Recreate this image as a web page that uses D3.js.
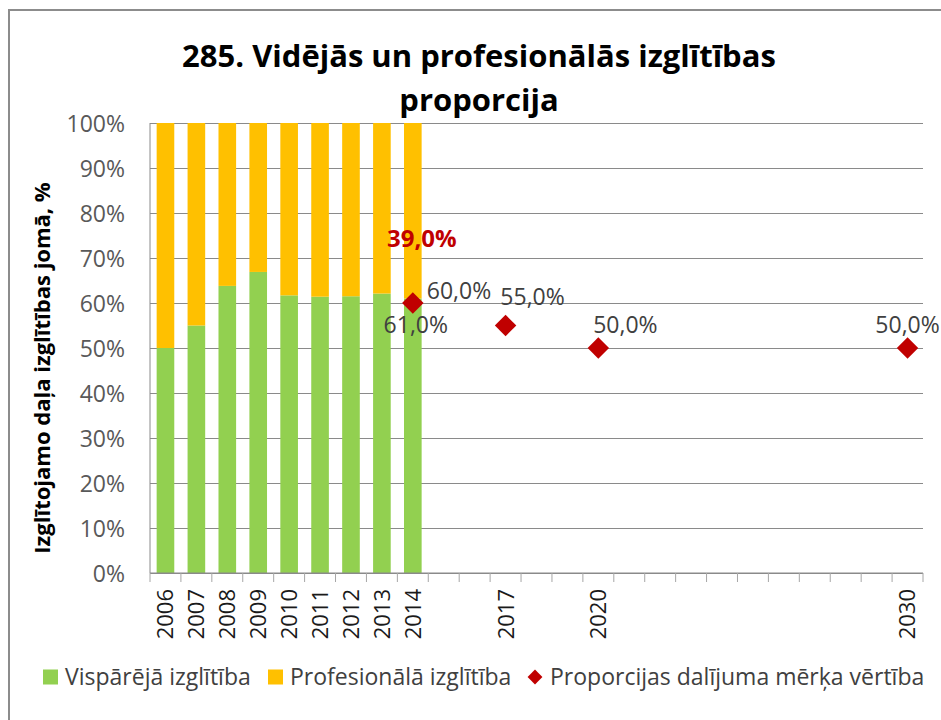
<!DOCTYPE html>
<html>
<head>
<meta charset="utf-8">
<script src="https://cdn.jsdelivr.net/npm/d3@7"></script>
<style>
  body { margin: 0; background: #fff; }
  svg text { font-family: "Open Sans", "DejaVu Sans", sans-serif; }
</style>
</head>
<body>
<div id="chart"></div>
<script>
const width = 941;
const height = 720;

// Dati
const years = ["2006", "2007", "2008", "2009", "2010", "2011", "2012", "2013", "2014",
    "2015", "2016", "2017", "2018", "2019", "2020", "2021", "2022", "2023", "2024",
    "2025", "2026", "2027", "2028", "2029", "2030"];
const labeledYears = ["2006", "2007", "2008", "2009", "2010", "2011", "2012", "2013", "2014",
    "2017", "2020", "2030"];
const barYears = ["2006", "2007", "2008", "2009", "2010", "2011", "2012", "2013", "2014"];
const generalShare = [50.0, 55.0, 63.8, 66.9, 61.7, 61.4, 61.5, 62.1, 61.0];
const vocationalShare = [50.0, 45.0, 36.2, 33.1, 38.3, 38.6, 38.5, 37.9, 39.0];
const targetYears = ["2014", "2017", "2020", "2030"];
const targetValues = [60.0, 55.0, 50.0, 50.0];
const yTicks = [0, 10, 20, 30, 40, 50, 60, 70, 80, 90, 100];

const seriesNames = ["Vispārējā izglītība", "Profesionālā izglītība", "Proporcijas dalījuma mērķa vērtība"];
const colors = { general: "#92D050", vocational: "#FFC000", target: "#C00000" };

const margin = { top: 123, right: 18, bottom: 147, left: 150 };
const plotW = width - margin.left - margin.right;
const plotH = height - margin.top - margin.bottom;

const fmt = v => d3.format(".1f")(v).replace(".", ",") + "%";

const svg = d3.select("#chart")
    .append("svg")
    .attr("width", width)
    .attr("height", height);

svg.append("rect").attr("width", width).attr("height", height).attr("fill", "#fff");

// rāmis
svg.append("path")
    .attr("d", `M9,${height} V10 H${width}`)
    .attr("fill", "none")
    .attr("stroke", "#8c8c8c")
    .attr("stroke-width", 2);

const x = d3.scaleBand().domain(years).range([0, plotW]).paddingInner(0.43).paddingOuter(0.215);
const y = d3.scaleLinear().domain([0, 100]).range([plotH, 0]);

const g = svg.append("g").attr("transform", `translate(${margin.left},${margin.top})`);

// režģis + Y ass
const yAxis = g.append("g")
    .call(d3.axisLeft(y).tickValues(yTicks).tickSize(-plotW).tickPadding(25).tickFormat(d => d + "%"));
yAxis.select(".domain").remove();
yAxis.selectAll(".tick line").attr("stroke", "#8a8a8a").attr("stroke-width", 1);
yAxis.selectAll(".tick text")
    .attr("fill", "#595959")
    .attr("font-size", 23)
    .attr("dy", "0.36em");

// stabiņi
const rows = barYears.map((yr, i) => ({ year: yr, general: generalShare[i], vocational: vocationalShare[i] }));
const stack = d3.stack().keys(["general", "vocational"])(rows);

g.append("g").selectAll("g")
    .data(stack)
    .join("g")
    .attr("fill", d => colors[d.key])
    .selectAll("rect")
    .data(d => d)
    .join("rect")
    .attr("x", d => x(d.data.year))
    .attr("width", x.bandwidth())
    .attr("y", d => y(d[1]))
    .attr("height", d => y(d[0]) - y(d[1]));

// X ass
const step = x.step();
g.append("line")
    .attr("x1", 0).attr("x2", plotW)
    .attr("y1", plotH).attr("y2", plotH)
    .attr("stroke", "#8a8a8a");
g.append("line")
    .attr("x1", 0).attr("x2", 0)
    .attr("y1", 0).attr("y2", plotH)
    .attr("stroke", "#8a8a8a");
g.append("g").selectAll("line")
    .data(d3.range(years.length + 1))
    .join("line")
    .attr("x1", i => i * step).attr("x2", i => i * step)
    .attr("y1", plotH).attr("y2", plotH + 9)
    .attr("stroke", "#a6a6a6");

const xAxis = g.append("g")
    .attr("transform", `translate(0,${plotH})`)
    .call(d3.axisBottom(x).tickValues(labeledYears).tickSize(0));
xAxis.select(".domain").remove();
xAxis.selectAll(".tick text")
    .attr("fill", "#1a1a1a")
    .attr("font-size", 22)
    .attr("text-anchor", "end")
    .attr("transform", "rotate(-90)")
    .attr("x", -16)
    .attr("y", 0)
    .attr("dy", "0.36em");

// mērķa vērtības
const targets = targetYears.map((yr, i) => ({ year: yr, value: targetValues[i] }));
const cx = d => x(d.year) + x.bandwidth() / 2;

g.append("g").selectAll("path")
    .data(targets)
    .join("path")
    .attr("d", d3.symbol(d3.symbolSquare, 230))
    .attr("transform", d => `translate(${cx(d)},${y(d.value)}) rotate(45)`)
    .attr("fill", colors.target);

// etiķešu nobīdes
const targetLabelShift = { "2014": [14, -4, "start"], "2017": [27, -21, "middle"], "2020": [27, -15, "middle"], "2030": [0, -15, "middle"] };
g.append("g").selectAll("text")
    .data(targets)
    .join("text")
    .attr("x", d => cx(d) + targetLabelShift[d.year][0])
    .attr("y", d => y(d.value) + targetLabelShift[d.year][1])
    .attr("text-anchor", d => targetLabelShift[d.year][2])
    .attr("font-size", 23)
    .attr("fill", "#404040")
    .text(d => fmt(d.value));

// 2014 stabiņa etiķetes
const last = rows[rows.length - 1];
const lastX = x(last.year) + x.bandwidth() / 2;
g.append("text")
    .attr("x", lastX + 3)
    .attr("y", y(last.general) + 34)
    .attr("text-anchor", "middle")
    .attr("font-size", 23)
    .attr("fill", "#404040")
    .text(fmt(last.general));
g.append("text")
    .attr("x", lastX + 9)
    .attr("y", y(last.general + last.vocational / 2) + 36)
    .attr("text-anchor", "middle")
    .attr("font-size", 24)
    .attr("font-weight", "bold")
    .attr("fill", colors.target)
    .text(fmt(last.vocational));

// virsraksts
const title = svg.append("text")
    .attr("text-anchor", "middle")
    .attr("font-size", 31)
    .attr("font-weight", "bold")
    .attr("fill", "#000");
title.append("tspan").attr("x", 479).attr("y", 67).text("285. Vidējās un profesionālās izglītības");
title.append("tspan").attr("x", 479).attr("y", 111).text("proporcija");

// Y ass nosaukums
svg.append("text")
    .attr("transform", "translate(50,368) rotate(-90)")
    .attr("text-anchor", "middle")
    .attr("font-size", 22)
    .attr("font-weight", "bold")
    .attr("fill", "#000")
    .text("Izglītojamo daļa izglītības jomā, %");

// leģenda
const legend = svg.append("g").attr("transform", "translate(0,677)");
const legendX = [43, 268, 528];
seriesNames.forEach((name, i) => {
    const item = legend.append("g").attr("transform", `translate(${legendX[i]},0)`);
    if (i < 2) {
        item.append("rect")
            .attr("x", 0).attr("y", -7.5)
            .attr("width", 15).attr("height", 15)
            .attr("fill", i === 0 ? colors.general : colors.vocational);
    } else {
        item.append("path")
            .attr("d", d3.symbol(d3.symbolSquare, 110))
            .attr("transform", "translate(7,0) rotate(45)")
            .attr("fill", colors.target);
    }
    item.append("text")
        .attr("x", 22)
        .attr("dy", "0.36em")
        .attr("font-size", 23)
        .attr("fill", "#404040")
        .text(name);
});
</script>
</body>
</html>
